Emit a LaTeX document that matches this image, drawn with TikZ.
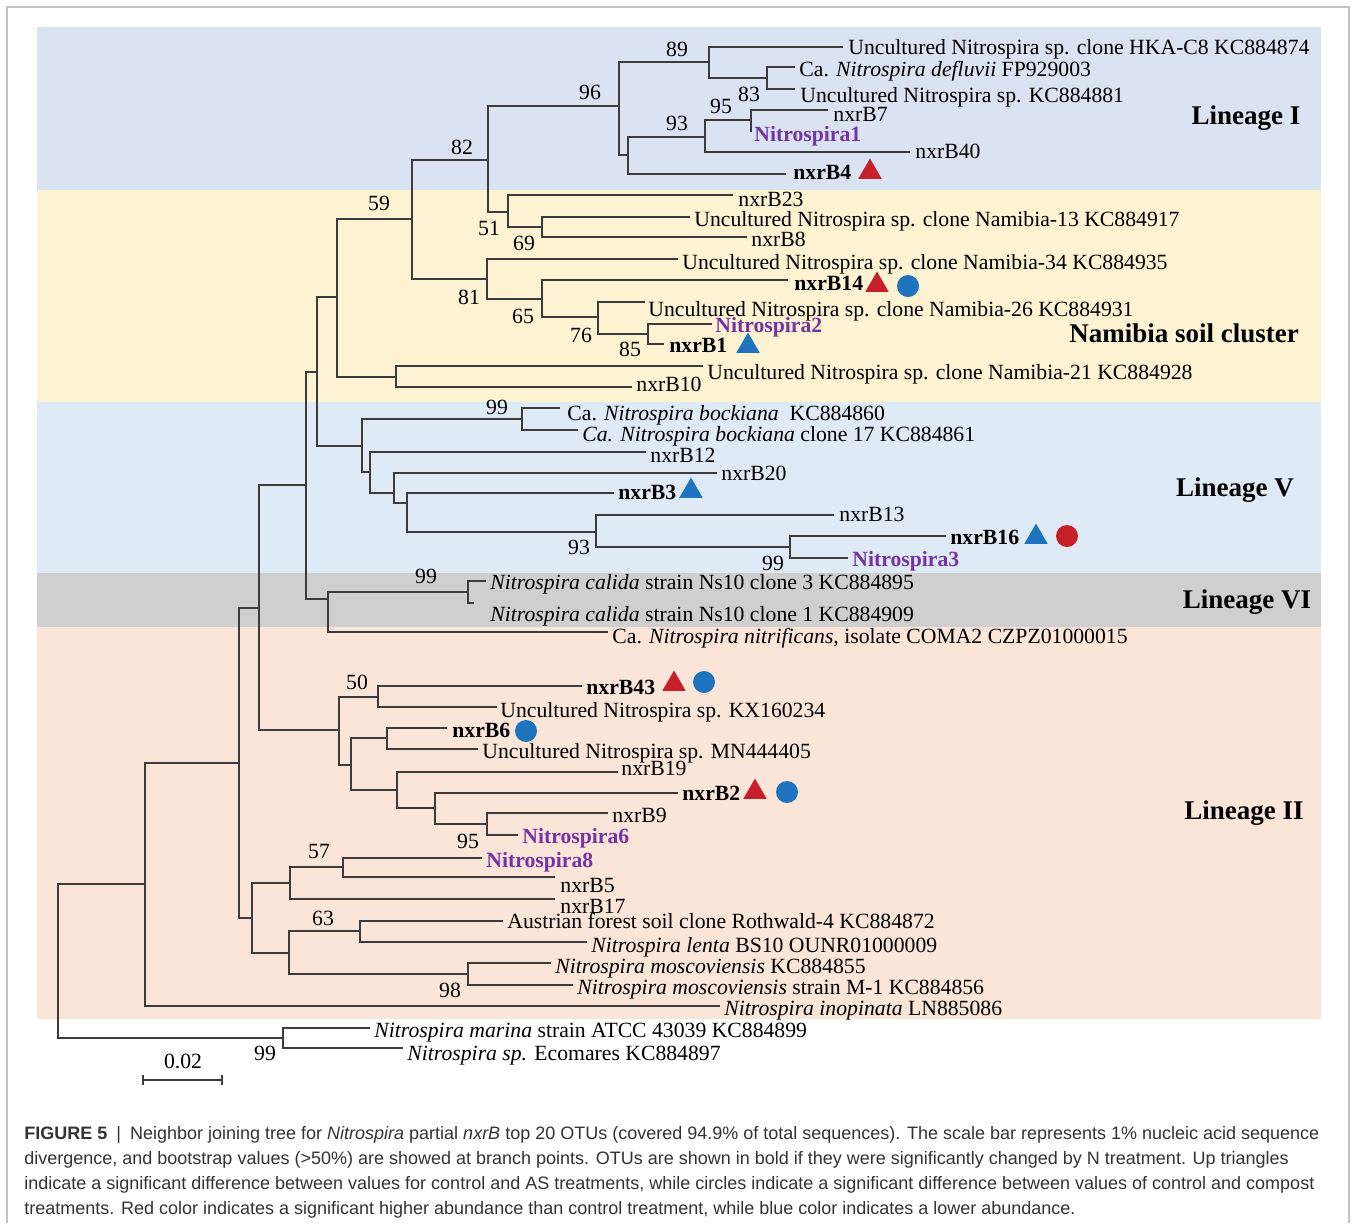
\documentclass[tikz,border=0pt]{standalone}
\usepackage{fontspec}
\setmainfont{Liberation Serif}
\newfontfamily\capfont{Liberation Sans}
\usetikzlibrary{shapes.geometric}
\definecolor{linI}{HTML}{DAE3F1}
\definecolor{namib}{HTML}{FDF2D1}
\definecolor{linV}{HTML}{DEEAF6}
\definecolor{linVI}{HTML}{CFCFCF}
\definecolor{linII}{HTML}{FBE5D9}
\definecolor{mkred}{HTML}{C8202A}
\definecolor{mkblue}{HTML}{1F74C0}
\definecolor{otu}{HTML}{7434A4}
\definecolor{branch}{HTML}{3C3C3C}
\definecolor{framec}{HTML}{C4C4C4}
\definecolor{captxt}{HTML}{333333}
\newcommand\tipleaf[6]{\coordinate (#1) at (#2,#3); \node[lbl] (#1t) at (#4,#5) {#6};}
\begin{document}
\begin{tikzpicture}[x=0.5pt,y=-0.5pt,
  br/.style={draw=branch, line width=0.65pt},
  lbl/.style={anchor=base west, inner sep=0pt, yshift=-3.7pt, font=\fontsize{10.85}{12}\selectfont},
  bs/.style={anchor=center, inner sep=0pt, font=\fontsize{10.85}{12}\selectfont},
  lin/.style={anchor=base, inner sep=0pt, yshift=-4.4pt, font=\fontsize{13.5}{15}\selectfont\bfseries},
  tri/.style={regular polygon, regular polygon sides=3, minimum size=13.5pt, inner sep=0pt, fill=#1},
  dot/.style={circle, minimum size=11pt, inner sep=0pt, fill=#1},
  capline/.style={anchor=base west, inner sep=0pt, yshift=-3.2pt, text=captxt, font=\capfont\fontsize{9}{11}\selectfont},
  pane/.style={fill=#1, draw=none},
]
\useasboundingbox (0,0) rectangle (1356,1223);
\fill[white] (0,0) rectangle (1356,1223);
\draw[framec, line width=0.6pt] (7,1223) -- (7,7) -- (1349,7) -- (1349,1223);
% panels
\path[pane=linI] (37,27) rectangle (1321,190);
\path[pane=namib] (37,190) rectangle (1321,402);
\path[pane=linV] (37,402) rectangle (1321,573);
\path[pane=linVI] (37,573) rectangle (1321,627);
\path[pane=linII] (37,627) rectangle (1321,1019);
% internal nodes
\coordinate (R) at (58,961);
\coordinate (OUT) at (283,1038);
\coordinate (A145) at (145,884);
\coordinate (B239) at (239,763);
\coordinate (C259) at (259,608);
\coordinate (L252) at (252,918);
\coordinate (D306) at (306,485);
\coordinate (G339) at (339,730);
\coordinate (E317) at (317,372);
\coordinate (VI328) at (328,599);
\coordinate (N337) at (337,297);
\coordinate (V362) at (362,446);
\coordinate (N412) at (412,219);
\coordinate (N396) at (396,377);
\coordinate (N488) at (488,160);
\coordinate (N487) at (487,279);
\coordinate (N619) at (619,106);
\coordinate (N508) at (508,212);
\coordinate (N709) at (709,62);
\coordinate (N628) at (628,155);
\coordinate (N767) at (767,78);
\coordinate (N705) at (705,137);
\coordinate (N751) at (751,120);
\coordinate (N542a) at (542,227);
\coordinate (N542b) at (542,299);
\coordinate (N598) at (598,317);
\coordinate (N648) at (648,334);
\coordinate (V522) at (522,419);
\coordinate (V370) at (370,472);
\coordinate (V394) at (394,493);
\coordinate (V407) at (407,503);
\coordinate (V596) at (596,532);
\coordinate (V790) at (790,547);
\coordinate (VI468) at (468,592);
\coordinate (G378) at (378,697);
\coordinate (G351) at (351,765);
\coordinate (G387) at (387,738);
\coordinate (G397) at (397,790);
\coordinate (G435) at (435,808);
\coordinate (G487) at (487,824);
\coordinate (H290) at (290,883);
\coordinate (H343) at (343,867);
\coordinate (H289) at (289,953);
\coordinate (H360) at (360,931);
\coordinate (H468) at (468,974);
% tips
\tipleaf{hka}{843}{47}{848}{47}{Uncultured Nitrospira sp. clone HKA-C8 KC884874}
\tipleaf{defl}{795}{67}{799}{69}{Ca. \textit{Nitrospira defluvii} FP929003}
\tipleaf{kc81}{795}{89}{800}{95}{Uncultured Nitrospira sp. KC884881}
\tipleaf{b7}{828}{110}{833}{114}{nxrB7}
\tipleaf{nit1}{751}{132}{754}{134}{\textcolor{otu}{\bfseries Nitrospira1}}
\tipleaf{b40}{910}{152}{915}{151}{nxrB40}
\tipleaf{b4}{786}{174}{793}{172}{\textbf{nxrB4}}
\tipleaf{b23}{733}{195}{738}{199}{nxrB23}
\tipleaf{nam13}{690}{217}{694}{219}{Uncultured Nitrospira sp. clone Namibia-13 KC884917}
\tipleaf{b8}{747}{237}{751}{239}{nxrB8}
\tipleaf{nam34}{678}{259}{682}{262}{Uncultured Nitrospira sp. clone Namibia-34 KC884935}
\tipleaf{b14}{788}{280}{794}{283}{\textbf{nxrB14}}
\tipleaf{nam26}{645}{302}{648}{309}{Uncultured Nitrospira sp. clone Namibia-26 KC884931}
\tipleaf{nit2}{712}{324}{715}{325}{\textcolor{otu}{\bfseries Nitrospira2}}
\tipleaf{b1}{664}{344}{669}{345}{\textbf{nxrB1}}
\tipleaf{nam21}{703}{366}{707}{372}{Uncultured Nitrospira sp. clone Namibia-21 KC884928}
\tipleaf{b10}{632}{387}{636}{384}{nxrB10}
\tipleaf{bock}{560}{408}{567}{413}{Ca. \textit{Nitrospira bockiana}\ \ KC884860}
\tipleaf{bock17}{578}{430}{582}{434}{\textit{Ca. Nitrospira bockiana} clone 17 KC884861}
\tipleaf{b12}{646}{452}{650}{455}{nxrB12}
\tipleaf{b20}{717}{473}{721}{473}{nxrB20}
\tipleaf{b3}{614}{493}{618}{492}{\textbf{nxrB3}}
\tipleaf{b13}{834}{515}{839}{514}{nxrB13}
\tipleaf{b16}{946}{536}{950}{537}{\textbf{nxrB16}}
\tipleaf{nit3}{848}{558}{852}{559}{\textcolor{otu}{\bfseries Nitrospira3}}
\tipleaf{cal3}{486}{581}{490}{582}{\textit{Nitrospira calida} strain Ns10 clone 3 KC884895}
\tipleaf{cal1}{474}{603}{490}{614}{\textit{Nitrospira calida} strain Ns10 clone 1 KC884909}
\tipleaf{nitrif}{608}{632}{612}{636}{Ca. \textit{Nitrospira nitrificans}, isolate COMA2 CZPZ01000015}
\tipleaf{b43}{582}{686}{586}{687}{\textbf{nxrB43}}
\tipleaf{kx}{497}{707}{500}{710}{Uncultured Nitrospira sp. KX160234}
\tipleaf{b6}{447}{728}{452}{730}{\textbf{nxrB6}}
\tipleaf{mn}{478}{749}{482}{751}{Uncultured Nitrospira sp. MN444405}
\tipleaf{b19}{618}{772}{621}{768}{nxrB19}
\tipleaf{b2}{678}{793}{682}{793}{\textbf{nxrB2}}
\tipleaf{b9}{608}{813}{612}{815}{nxrB9}
\tipleaf{nit6}{518}{835}{522}{836}{\textcolor{otu}{\bfseries Nitrospira6}}
\tipleaf{nit8}{482}{858}{486}{860}{\textcolor{otu}{\bfseries Nitrospira8}}
\tipleaf{b5}{555}{877}{560}{885}{nxrB5}
\tipleaf{b17}{555}{899}{560}{906}{nxrB17}
\tipleaf{aus}{503}{921}{507}{921}{Austrian forest soil clone Rothwald-4 KC884872}
\tipleaf{lenta}{587}{942}{591}{945}{\textit{Nitrospira lenta} BS10 OUNR01000009}
\tipleaf{mosc}{551}{963}{555}{966}{\textit{Nitrospira moscoviensis} KC884855}
\tipleaf{m1}{573}{985}{577}{987}{\textit{Nitrospira moscoviensis} strain M-1 KC884856}
\tipleaf{inop}{720}{1006}{724}{1008}{\textit{Nitrospira inopinata} LN885086}
\tipleaf{marina}{370}{1028}{374}{1030}{\textit{Nitrospira marina} strain ATCC 43039 KC884899}
\tipleaf{ecom}{403}{1048}{407}{1053}{\textit{Nitrospira sp.} Ecomares KC884897}
% branches
\foreach \p/\c in {R/A145, R/OUT, OUT/marina, OUT/ecom, A145/B239, A145/inop,
  B239/C259, B239/L252, C259/D306, C259/G339, D306/E317, D306/VI328,
  E317/N337, E317/V362, N337/N412, N337/N396, N412/N488, N412/N487,
  N488/N619, N488/N508, N619/N709, N619/N628, N709/hka, N709/N767,
  N767/defl, N767/kc81, N628/N705, N628/b4, N705/N751, N705/b40,
  N751/b7, N751/nit1, N508/b23, N508/N542a, N542a/nam13, N542a/b8,
  N487/nam34, N487/N542b, N542b/b14, N542b/N598, N598/nam26, N598/N648,
  N648/nit2, N648/b1, N396/nam21, N396/b10, V362/V522, V362/V370,
  V522/bock, V522/bock17, V370/b12, V370/V394, V394/b20, V394/V407,
  V407/b3, V407/V596, V596/b13, V596/V790, V790/b16, V790/nit3,
  VI328/VI468, VI328/nitrif, VI468/cal3, VI468/cal1, G339/G378, G339/G351,
  G378/b43, G378/kx, G351/G387, G351/G397, G387/b6, G387/mn,
  G397/b19, G397/G435, G435/b2, G435/G487, G487/b9, G487/nit6,
  L252/H290, L252/H289, H290/H343, H290/b17, H343/nit8, H343/b5,
  H289/H360, H289/H468, H360/aus, H360/lenta, H468/mosc, H468/m1}
  \draw[br] (\p) |- (\c);
% bootstrap values
\node[bs] (bs89) at (677,49) {89};
\node[bs] (bs96) at (590,92) {96};
\node[bs] (bs95a) at (721,106) {95};
\node[bs] (bs83) at (749,94) {83};
\node[bs] (bs93a) at (677,123) {93};
\node[bs] (bs82) at (462,147) {82};
\node[bs] (bs59) at (379,203) {59};
\node[bs] (bs51) at (489,228) {51};
\node[bs] (bs69) at (524,243) {69};
\node[bs] (bs81) at (469,297) {81};
\node[bs] (bs65) at (523,316) {65};
\node[bs] (bs76) at (581,335) {76};
\node[bs] (bs85) at (630,349) {85};
\node[bs] (bs99a) at (497,407) {99};
\node[bs] (bs93b) at (579,547) {93};
\node[bs] (bs99b) at (773,563) {99};
\node[bs] (bs99c) at (426,576) {99};
\node[bs] (bs50) at (357,682) {50};
\node[bs] (bs95b) at (468,841) {95};
\node[bs] (bs57) at (319,851) {57};
\node[bs] (bs63) at (323,918) {63};
\node[bs] (bs98) at (450,990) {98};
\node[bs] (bs99d) at (265,1053) {99};
% markers
\node[tri=mkred] (m4t) at (870,172) {};
\node[tri=mkred] (m14t) at (877,285) {};
\node[dot=mkblue] (m14c) at (908,286) {};
\node[tri=mkblue] (m1t) at (748,346) {};
\node[tri=mkblue] (m3t) at (691,491) {};
\node[tri=mkblue] (m16t) at (1036,537) {};
\node[dot=mkred] (m16c) at (1067,536) {};
\node[tri=mkred] (m43t) at (674,684) {};
\node[dot=mkblue] (m43c) at (704,682) {};
\node[dot=mkblue] (m6c) at (526,731) {};
\node[tri=mkred] (m2t) at (755,792) {};
\node[dot=mkblue] (m2c) at (787,792) {};
% lineage labels
\node[lin] (linI) at (1246,116) {Lineage I};
\node[lin] (linN) at (1184,334) {Namibia soil cluster};
\node[lin] (linV) at (1235,488) {Lineage V};
\node[lin] (linVI) at (1247,600) {Lineage VI};
\node[lin] (linII) at (1244,811) {Lineage II};
% scale bar
\coordinate (sb1) at (143,1080);
\coordinate (sb2) at (222,1080);
\draw[br] (sb1) -- (sb2);
\draw[br] ([yshift=2.5pt]sb1) -- ([yshift=-2.5pt]sb1);
\draw[br] ([yshift=2.5pt]sb2) -- ([yshift=-2.5pt]sb2);
\node[bs] (sbl) at (183,1061) {0.02};
% caption
\node[capline] (cap1) at (24,1133) {\textbf{FIGURE 5}\enspace|\enspace Neighbor joining tree for \textit{Nitrospira} partial \textit{nxrB} top 20 OTUs (covered 94.9\% of total sequences). The scale bar represents 1\% nucleic acid sequence};
\node[capline] (cap2) at (24,1158) {divergence, and bootstrap values (>50\%) are showed at branch points. OTUs are shown in bold if they were significantly changed by N treatment. Up triangles};
\node[capline] (cap3) at (24,1183) {indicate a significant difference between values for control and AS treatments, while circles indicate a significant difference between values of control and compost};
\node[capline] (cap4) at (24,1208) {treatments. Red color indicates a significant higher abundance than control treatment, while blue color indicates a lower abundance.};
\end{tikzpicture}
\end{document}
